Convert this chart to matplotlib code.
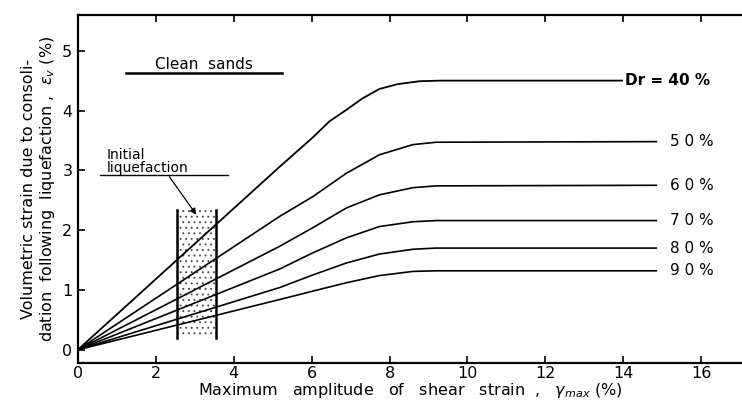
import numpy as np
import matplotlib.pyplot as plt
from matplotlib.patches import Rectangle

x40 = [0, 5.18, 6.03, 6.46, 6.89, 7.3, 7.74, 8.2, 8.77, 9.3, 13.97]
y40 = [0.0, 3.06, 3.55, 3.82, 4.01, 4.2, 4.36, 4.44, 4.49, 4.5, 4.5]

x_common = [0, 5.18, 6.03, 6.89, 7.74, 8.60, 9.2, 14.85]
y50 = [0, 2.23, 2.56, 2.95, 3.26, 3.43, 3.47, 3.48]
y60 = [0, 1.73, 2.04, 2.37, 2.59, 2.71, 2.74, 2.75]
y70 = [0, 1.35, 1.62, 1.87, 2.06, 2.14, 2.16, 2.16]
y80 = [0, 1.04, 1.25, 1.45, 1.60, 1.68, 1.70, 1.70]
y90 = [0, 0.84, 0.98, 1.12, 1.24, 1.31, 1.32, 1.32]

labels = ["Dr = 40 %", "5 0 %", "6 0 %", "7 0 %", "8 0 %", "9 0 %"]
xticks = [0, 2, 4, 6, 8, 10, 12, 14, 16]
yticks = [0, 1, 2, 3, 4, 5]

plt.rcParams['hatch.linewidth'] = 0.6

fig = plt.figure(figsize=(7.42, 4.01), dpi=100)
ax = fig.add_axes([0.105, 0.095, 0.895, 0.868])

ax.plot(x40, y40, color='black', lw=1.3)
series = [y50, y60, y70, y80, y90]
for ys in series:
    ax.plot(x_common, ys, color='black', lw=1.2)

# curve labels at the right
ax.text(14.05, y40[-1], labels[0], fontsize=11, va='center', ha='left', fontweight='bold')
for ys, lab in zip(series, labels[1:]):
    ax.text(15.2, ys[-1], lab, fontsize=11, va='center', ha='left')

# initial liquefaction band
band = Rectangle((2.55, 0.2), 1.0, 2.13, facecolor='none', edgecolor='#444444',
                 hatch='...', lw=0)
ax.add_patch(band)
ax.plot([2.55, 2.55], [0.2, 2.33], color='black', lw=1.8)
ax.plot([3.55, 3.55], [0.2, 2.33], color='black', lw=1.8)

ax.text(0.74, 3.15, "Initial\nliquefaction", fontsize=10, ha='left', va='center',
        linespacing=0.85)
ax.plot([0.56, 3.85], [2.93, 2.93], color='black', lw=1.0)
ax.annotate("", xy=(3.08, 2.22), xytext=(2.31, 2.93),
            arrowprops=dict(arrowstyle='-|>', color='black', lw=0.9, mutation_scale=9))

ax.text(3.23, 4.77, "Clean  sands", fontsize=11, ha='center', va='center')
ax.plot([1.23, 5.23], [4.63, 4.63], color='black', lw=1.8)

ax.set_xlim(0, 17.05)
ax.set_ylim(-0.22, 5.6)
ax.set_xticks(xticks)
ax.set_yticks(yticks)
ax.tick_params(axis='both', direction='in', length=5, width=1.2, labelsize=11.5)
ax.tick_params(axis='x', top=True, pad=2)
ax.tick_params(axis='y', pad=4)
ax.spines['right'].set_visible(False)
for s in ['left', 'bottom', 'top']:
    ax.spines[s].set_linewidth(1.6)

ax.set_xlabel(r"Maximum   amplitude   of   shear   strain  ,   $\gamma_{max}$ (%)",
              fontsize=11.5, labelpad=0)
ax.set_ylabel("Volumetric strain due to consoli-\n"
              r"dation  following  liquefaction ,  $\varepsilon_v$ (%)",
              fontsize=11.5, labelpad=4, linespacing=1.1)

fig.savefig("out.png", dpi=100)
